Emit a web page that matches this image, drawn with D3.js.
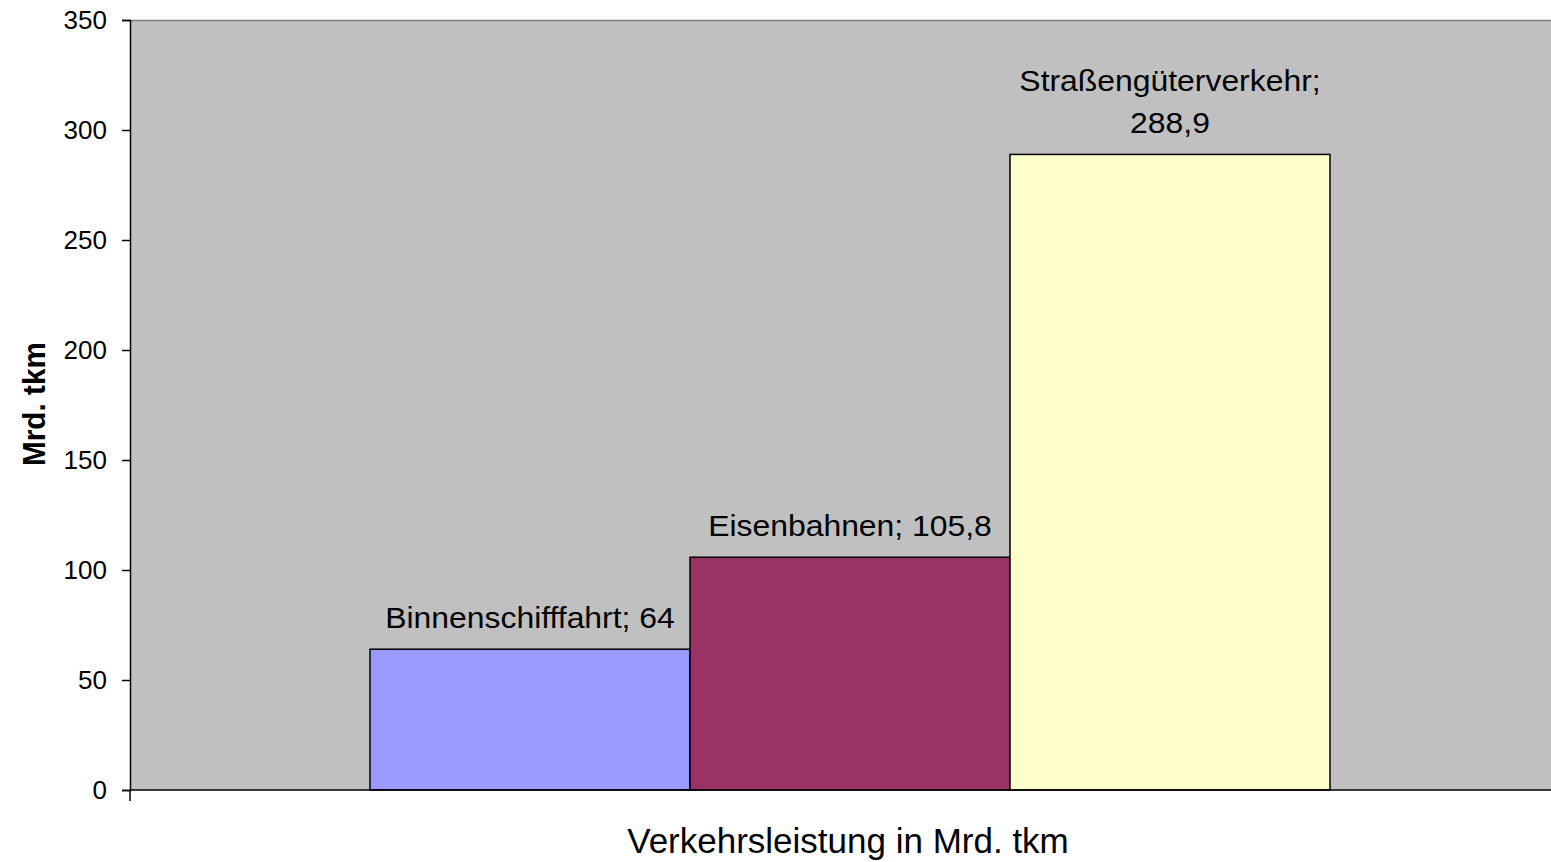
<!DOCTYPE html>
<html>
  <head>
    <meta charset="utf-8">
    <style>
      body { margin: 0; background: #fff; font-family: "Liberation Sans", Arial, sans-serif; }
    </style>
  </head>
<body>
  <div id="chart"></div>
  <script src="https://d3js.org/d3.v7.min.js"></script>
  <script>
    var category = "Verkehrsleistung in Mrd. tkm";
    var series = ["Binnenschifffahrt", "Eisenbahnen", "Straßengüterverkehr"];
    var values = [64, 105.8, 288.9];
    var colors = ["#9999FF", "#993366", "#FFFFCC"];
    var yTicks = [0, 50, 100, 150, 200, 250, 300, 350];

    var W = 1551, H = 862;
    var margin = {top: 20, right: -19, bottom: 72, left: 130},
      width = W - margin.left - margin.right,
      height = H - margin.top - margin.bottom;

    // data labels come out a little wider than plain Arial
    var stretch = 1.1;

    var svg = d3.select("#chart")
      .append("svg")
      .attr("width", W)
      .attr("height", H);

    var g = svg.append("g")
      .attr("transform", "translate(" + margin.left + "," + margin.top + ")");

    var x0 = d3.scaleBand()
      .domain([category])
      .range([0, width])
      .paddingInner(0)
      .paddingOuter(0.25);

    var x1 = d3.scaleBand()
      .domain(series)
      .range([0, x0.bandwidth()]);

    var y = d3.scaleLinear()
      .domain([0, 350])
      .range([height, 0]);

    // plot area
    g.append("rect")
      .attr("x", 0).attr("y", 0)
      .attr("width", width).attr("height", height)
      .attr("fill", "#C0C0C0");
    g.append("line")
      .attr("x1", 0).attr("x2", width)
      .attr("y1", 0.5).attr("y2", 0.5)
      .attr("stroke", "#808080").attr("stroke-width", 1.5);

    // bars
    g.selectAll(".bar")
      .data(values)
      .enter()
      .append("rect")
        .attr("class", "bar")
        .attr("x", function(d, i) { return x0(category) + x1(series[i]); })
        .attr("y", function(d) { return y(d); })
        .attr("width", x1.bandwidth())
        .attr("height", function(d) { return height - y(d); })
        .attr("fill", function(d, i) { return colors[i]; })
        .attr("stroke", "#000")
        .attr("stroke-width", 1.5);

    // y axis
    var yAxis = g.append("g")
      .call(d3.axisLeft(y).tickValues(yTicks).tickSize(8).tickPadding(15).tickFormat(d3.format("d")));
    yAxis.select(".domain").attr("stroke", "#000").attr("stroke-width", 1.5);
    yAxis.selectAll(".tick line").attr("stroke-width", 1.5);
    yAxis.selectAll("text")
      .style("font-family", "'Liberation Sans', Arial, sans-serif")
      .style("font-size", "26px")
      .attr("fill", "#000");

    // x axis line
    g.append("line")
      .attr("x1", 0).attr("x2", width)
      .attr("y1", height).attr("y2", height)
      .attr("stroke", "#000").attr("stroke-width", 1.5);
    g.append("line")
      .attr("x1", 0).attr("x2", 0)
      .attr("y1", height).attr("y2", height + 11)
      .attr("stroke", "#000").attr("stroke-width", 1.5);

    // data labels
    var labels = g.selectAll(".lbl")
      .data(values)
      .enter()
      .append("text")
        .attr("class", "lbl")
        .attr("text-anchor", "middle")
        .style("font-size", "29px")
        .attr("fill", "#000")
        .attr("transform", function(d, i) {
          var cx = x0(category) + x1(series[i]) + x1.bandwidth() / 2;
          return "translate(" + cx + "," + (y(d) - 21) + ") scale(" + stretch + ",1)";
        });

    labels.each(function(d, i) {
      var t = d3.select(this);
      var val = String(d).replace(".", ",");
      if (i === 2) {
        t.append("tspan").attr("x", 0).attr("dy", -42).text(series[i] + ";");
        t.append("tspan").attr("x", 0).attr("dy", 42).text(val);
      } else {
        t.text(series[i] + "; " + val);
      }
    });

    // axis titles
    g.append("text")
      .attr("x", x0(category) + x0.bandwidth() / 2 - 2)
      .attr("y", height + 63)
      .attr("text-anchor", "middle")
      .style("font-size", "35px")
      .text(category);

    g.append("text")
      .attr("transform", "translate(" + (-margin.left + 45) + "," + (height / 2 - 1) + ") rotate(-90)")
      .attr("text-anchor", "middle")
      .attr("textLength", 124)
      .attr("lengthAdjust", "spacingAndGlyphs")
      .style("font-size", "31px")
      .style("font-weight", "bold")
      .text("Mrd. tkm");
  </script>
</body>
</html>
